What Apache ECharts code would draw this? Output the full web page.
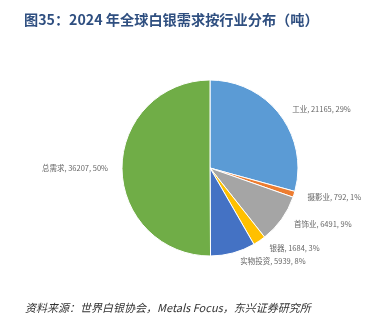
<!DOCTYPE html>
<html>
<head>
<meta charset="utf-8">
<script src="https://cdn.jsdelivr.net/npm/echarts@6/dist/echarts.min.js"></script>
<style>
html,body{margin:0;padding:0;background:#fff;}
#chart{width:375px;height:329px;}
</style>
</head>
<body>
<div id="chart"></div>
<script>
const titleText = '图35：2024 年全球白银需求按行业分布（吨）';
const sourceText = '资料来源：世界白银协会，Metals Focus，东兴证券研究所';
const categories = ['工业', '摄影业', '首饰业', '银器', '实物投资', '总需求'];
const values = [21165, 792, 6491, 1684, 5939, 36207];
const percents = ['29%', '1%', '9%', '3%', '8%', '50%'];
const colors = ['#5B9BD5', '#ED7D31', '#A5A5A5', '#FFC000', '#4472C4', '#70AD47'];

const chart = echarts.init(document.getElementById('chart'), null, {renderer: 'canvas'});
const data = categories.map((c, i) => ({
  name: c, value: values[i], pct: percents[i],
  itemStyle: {color: colors[i]}
}));
chart.setOption({
  animation: false,
  backgroundColor: '#ffffff',
  title: [{
    text: titleText, left: 19, top: 8,
    textStyle: {fontFamily: 'Noto Sans CJK SC', fontSize: 14.2, fontWeight: 'bold', color: '#2F4F80'}
  }, {
    text: sourceText, left: 20, top: 297,
    textStyle: {fontFamily: 'Noto Sans CJK SC', fontSize: 11, fontWeight: 'normal', fontStyle: 'italic', color: '#333333'}
  }],
  series: [{
    type: 'pie',
    center: [210, 168],
    radius: 88,
    startAngle: 90,
    clockwise: true,
    avoidLabelOverlap: false,
    data: data,
    itemStyle: {borderColor: '#ffffff', borderWidth: 1},
    label: {
      show: true, position: 'outside',
      fontFamily: 'Noto Sans CJK SC', fontSize: 7.5, color: '#666666',
      formatter: p => p.name + ', ' + p.value + ', ' + p.data.pct
    },
    labelLine: {show: false, length: 9, length2: 0},
    emphasis: {disabled: true}
  }]
});
</script>
</body>
</html>
